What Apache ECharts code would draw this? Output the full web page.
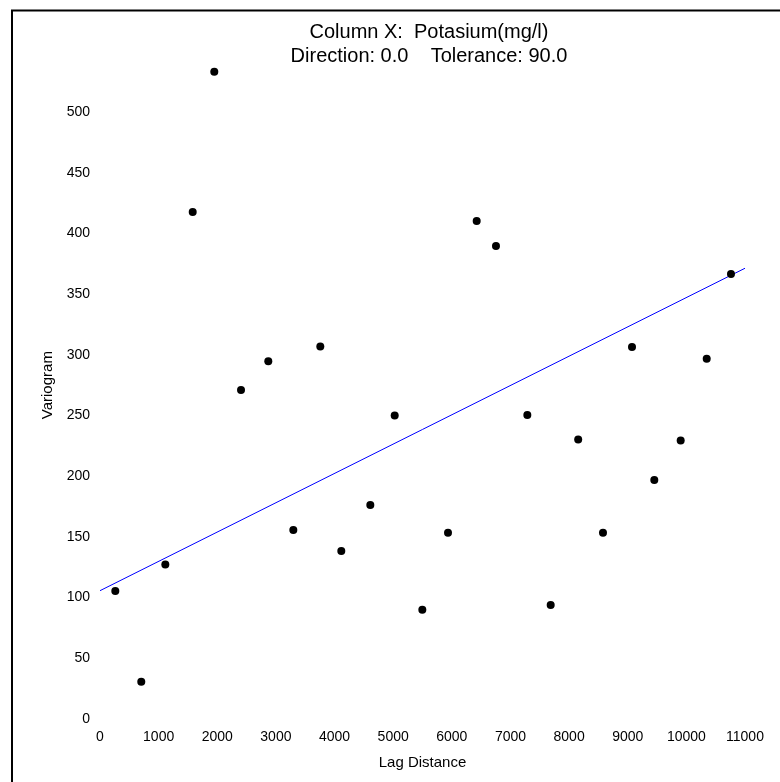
<!DOCTYPE html>
<html>
<head>
<meta charset="utf-8">
<title>Variogram</title>
<script src="https://cdn.jsdelivr.net/npm/echarts@6/dist/echarts.min.js"></script>
<style>
  html, body { margin: 0; padding: 0; background: #fff; }
  #main { width: 780px; height: 782px; }
</style>
</head>
<body>
<div id="main"></div>
<script>
// lag distance of each point
var lagDist = [261, 704, 1114, 1581, 1949, 2405, 2870, 3297, 3757, 4115,
               4610, 5026, 5497, 5935, 6424, 6753, 7288, 7686, 8155, 8578,
               9073, 9453, 9903, 10347, 10761];
// variogram value of each point
var variogram = [105.4, 30.7, 127.3, 417.6, 533.2, 271, 294.6, 155.7, 306.9, 138.4,
                 176.3, 250.1, 90, 153.5, 410.2, 389.6, 250.4, 93.9, 230.2, 153.5,
                 306.4, 196.9, 229.5, 296.8, 366.6];
// fitted line ends
var fitX = [0, 11000];
var fitY = [105.7, 371.3];

var pts = [];
for (var i = 0; i < lagDist.length; i++) {
  pts.push([lagDist[i], variogram[i]]);
}
var fit = [];
for (var j = 0; j < fitX.length; j++) {
  fit.push([fitX[j], fitY[j]]);
}

var font = '"Liberation Sans", Arial, sans-serif';
var chart = echarts.init(document.getElementById('main'));
chart.setOption({
  animation: false,
  backgroundColor: '#fff',
  title: {
    text: 'Column X:  Potasium(mg/l)\nDirection: 0.0    Tolerance: 90.0',
    left: 424,
    top: 15.5,
    textAlign: 'center',
    textStyle: {
      fontFamily: font,
      fontSize: 20,
      fontWeight: 'normal',
      color: '#000',
      lineHeight: 24
    }
  },
  graphic: [{
    type: 'rect',
    shape: { x: 12, y: 10.5, width: 900, height: 900 },
    style: { fill: 'none', stroke: '#000', lineWidth: 2 },
    silent: true
  }],
  grid: {
    left: 100,
    right: 35,
    top: 51.3,
    bottom: 63
  },
  xAxis: {
    type: 'value',
    min: 0,
    max: 11000,
    interval: 1000,
    name: 'Lag Distance',
    nameLocation: 'middle',
    nameGap: 36,
    nameTextStyle: { fontFamily: font, fontSize: 15, color: '#000' },
    axisLine: { show: false },
    axisTick: { show: false },
    splitLine: { show: false },
    axisLabel: {
      fontFamily: font, fontSize: 14, color: '#000', margin: 11,
      formatter: function (v) { return String(v); }
    }
  },
  yAxis: {
    type: 'value',
    min: 0,
    max: 550,
    interval: 50,
    name: 'Variogram',
    nameLocation: 'middle',
    nameGap: 45,
    nameTextStyle: { fontFamily: font, fontSize: 15, color: '#000' },
    axisLine: { show: false },
    axisTick: { show: false },
    splitLine: { show: false },
    axisLabel: { fontFamily: font, fontSize: 14, color: '#000', margin: 10, showMaxLabel: false }
  },
  series: [
    {
      type: 'line',
      data: fit,
      symbol: 'none',
      lineStyle: { color: '#0000ff', width: 1 },
      z: 1
    },
    {
      type: 'scatter',
      data: pts,
      symbol: 'circle',
      symbolSize: 8,
      itemStyle: { color: '#000', opacity: 1 },
      z: 2
    }
  ]
});
</script>
</body>
</html>
